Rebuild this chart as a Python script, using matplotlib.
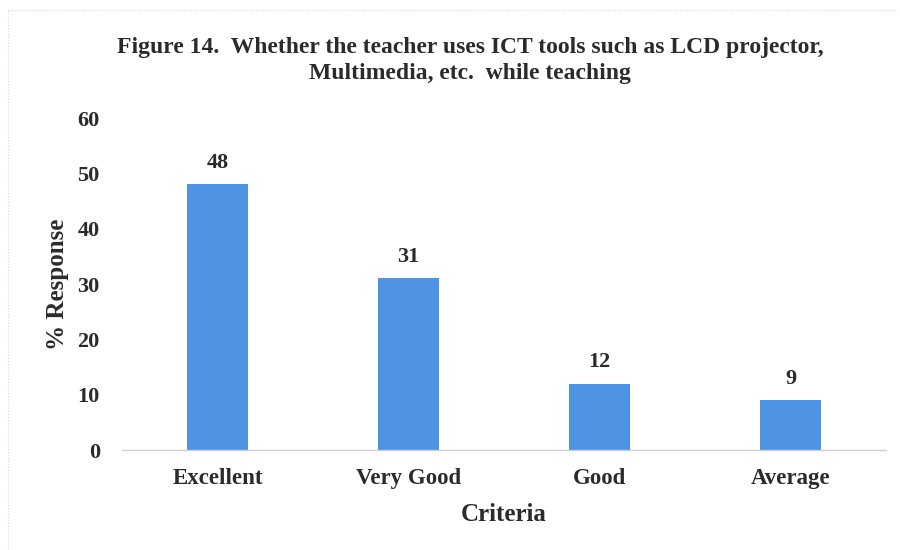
import numpy as np
import matplotlib
matplotlib.use("Agg")
import matplotlib.pyplot as plt

# data
criteria = ["Excellent", "Very Good", "Good", "Average"]
response = [48, 31, 12, 9]
yticks = [0, 10, 20, 30, 40, 50, 60]

plt.rcParams['font.family'] = ['Liberation Serif', 'DejaVu Serif']
plt.rcParams['font.weight'] = 'bold'

fig = plt.figure(figsize=(9, 5.5), dpi=100)
ax = fig.add_axes([122/900, 1-450/550, (886-122)/900, (450-118)/550])

x = np.arange(len(criteria))
bars = ax.bar(x, response, width=0.315, color='#4F93E4', zorder=2)

for xi, v in zip(x, response):
    ax.annotate(str(v), (xi, v), xytext=(0, 8), textcoords='offset points',
                ha='center', va='bottom', fontsize=16, fontweight='bold',
                color='#2b2b2b')

ax.set_xlim(-0.5, len(criteria)-0.5)
ax.set_ylim(0, 60)
ax.set_yticks(yticks)
ax.set_xticks(x)
ax.set_xticklabels(criteria, fontsize=16.5, fontweight='bold', color='#2b2b2b')
ax.tick_params(axis='y', labelsize=16, labelcolor='#2b2b2b', length=0, pad=16)
ax.tick_params(axis='x', length=0, pad=13)

for s in ['top', 'right', 'left']:
    ax.spines[s].set_visible(False)
ax.spines['bottom'].set_color('#cfcfcf')
ax.spines['bottom'].set_linestyle((0, (2, 1)))
ax.spines['bottom'].set_linewidth(1)

ax.set_xlabel("Criteria", fontsize=18, fontweight='bold', color='#2b2b2b', labelpad=10)
ax.set_ylabel("% Response", fontsize=18, fontweight='bold', color='#2b2b2b', labelpad=6)

fig.text(470/900, 1-47/550, "Figure 14.  Whether the teacher uses ICT tools such as LCD projector,",
         ha='center', va='center', fontsize=17, fontweight='bold', color='#2b2b2b')
fig.text(470/900, 1-74/550, "Multimedia, etc.  while teaching",
         ha='center', va='center', fontsize=17, fontweight='bold', color='#2b2b2b')

# faint page border of the scan
fig.add_artist(plt.Line2D([8/900, 1], [1-10/550, 1-10/550], color='#d8d8d8',
                          lw=0.8, ls=':', transform=fig.transFigure))
fig.add_artist(plt.Line2D([8/900, 8/900], [0, 1-10/550], color='#d8d8d8',
                          lw=0.8, ls=':', transform=fig.transFigure))

fig.savefig("out.png", dpi=100)
